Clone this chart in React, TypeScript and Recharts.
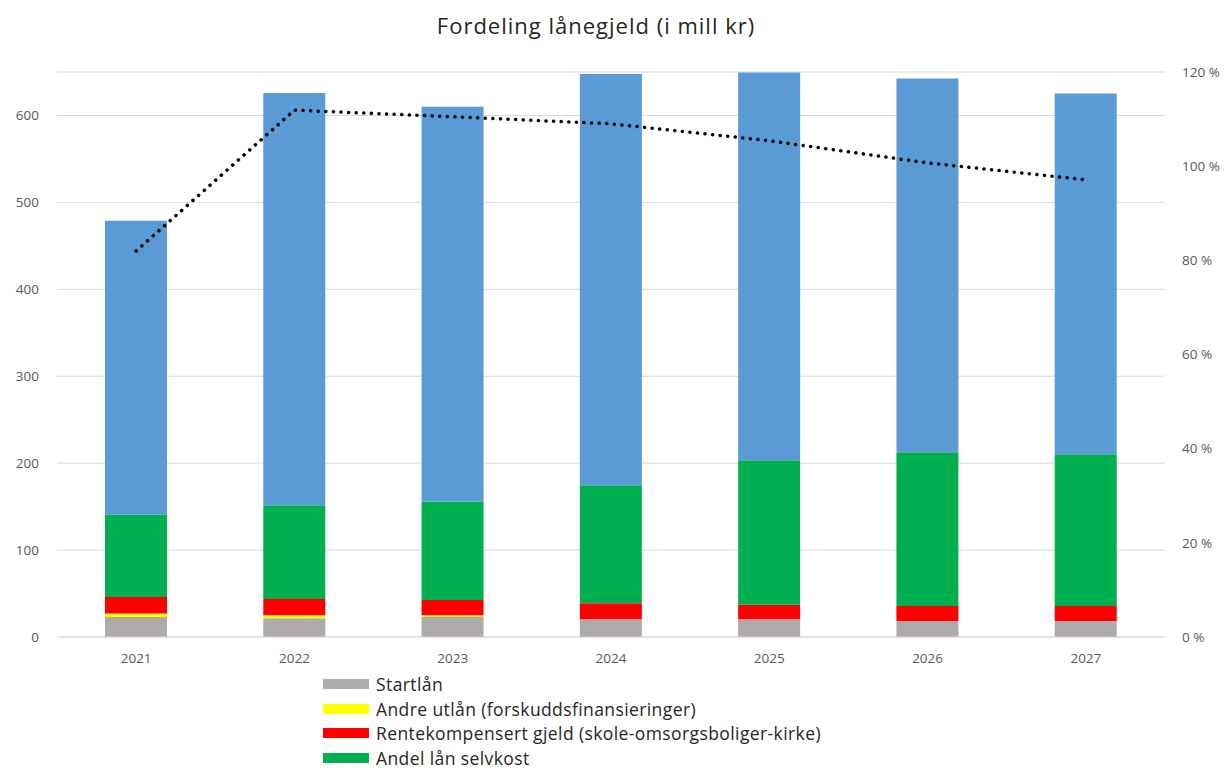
import { ComposedChart, Bar, Line, XAxis, YAxis, CartesianGrid } from "recharts";

const years = ["2021", "2022", "2023", "2024", "2025", "2026", "2027"];
const startlan = [23, 21.5, 23, 20.3, 20.3, 18.4, 18.4];
const andreUtlan = [4, 3.5, 2, 0, 0, 0, 0];
const rentekomp = [19, 18.7, 17.5, 18.4, 16.8, 17.2, 17.2];
const selvkost = [95, 108, 113.5, 136, 166.3, 177, 174.7];
const ovrig = [338, 474, 454, 473, 446, 430, 415];
const andel = [0.82, 1.119, 1.105, 1.09, 1.054, 1.007, 0.971];

const leftTicks = [0, 100, 200, 300, 400, 500, 600];
const rightTicks = [0, 0.2, 0.4, 0.6, 0.8, 1.0, 1.2];

const legendItems = [
  { name: "Startlån", color: "#AEABAA" },
  { name: "Andre utlån (forskuddsfinansieringer)", color: "#FFFF00" },
  { name: "Rentekompensert gjeld (skole-omsorgsboliger-kirke)", color: "#FF0000" },
  { name: "Andel lån selvkost", color: "#00B050" },
];

const data = years.map((year, i) => ({
  year,
  startlan: startlan[i],
  andreUtlan: andreUtlan[i],
  rentekomp: rentekomp[i],
  selvkost: selvkost[i],
  ovrig: ovrig[i],
  andel: andel[i],
}));

const font = "'Open Sans', sans-serif";
const tickStyle = { fill: "#595959", fontSize: 13.5, fontFamily: font };

export default function App() {
  return (
    <div
      style={{
        position: "absolute",
        left: 0,
        top: 0,
        width: 1224,
        height: 771,
        background: "#fff",
        overflow: "hidden",
        fontFamily: font,
      }}
    >
      <div
        style={{
          position: "absolute",
          top: 10,
          left: 0,
          width: 1192,
          textAlign: "center",
          fontSize: 22,
          letterSpacing: 1,
          color: "#262626",
        }}
      >
        Fordeling lånegjeld (i mill kr)
      </div>
      <ComposedChart
        width={1224}
        height={771}
        data={data}
        margin={{ top: 72, right: 0, bottom: 104, left: 7 }}
      >
        <CartesianGrid
          yAxisId="left"
          vertical={false}
          stroke="#d9d9d9"
          strokeWidth={1}
        />
        <XAxis
          dataKey="year"
          height={30}
          axisLine={{ stroke: "#d9d9d9" }}
          tickLine={false}
          tick={tickStyle}
          tickMargin={10}
        />
        <YAxis
          yAxisId="left"
          width={50}
          domain={[0, 650]}
          ticks={leftTicks}
          axisLine={false}
          tickLine={false}
          tick={tickStyle}
          tickMargin={12}
        />
        <YAxis
          yAxisId="right"
          orientation="right"
          width={59}
          domain={[0, 1.2]}
          ticks={rightTicks}
          axisLine={false}
          tickLine={false}
          tick={{ ...tickStyle, textAnchor: "start" }}
          tickMargin={11}
          tickFormatter={(v) => `${Math.round(v * 100)} %`}
        />
        <Bar yAxisId="left" dataKey="startlan" stackId="a" fill="#AEABAA" barSize={62} isAnimationActive={false} />
        <Bar yAxisId="left" dataKey="andreUtlan" stackId="a" fill="#FFFF00" barSize={62} isAnimationActive={false} />
        <Bar yAxisId="left" dataKey="rentekomp" stackId="a" fill="#FF0000" barSize={62} isAnimationActive={false} />
        <Bar yAxisId="left" dataKey="selvkost" stackId="a" fill="#00B050" barSize={62} isAnimationActive={false} />
        <Bar yAxisId="left" dataKey="ovrig" stackId="a" fill="#5B9BD5" barSize={62} isAnimationActive={false} />
        <Line
          yAxisId="right"
          dataKey="andel"
          type="linear"
          stroke="#000"
          strokeWidth={3.5}
          strokeDasharray="0.1 7.5"
          strokeLinecap="round"
          dot={false}
          activeDot={false}
          isAnimationActive={false}
        />
      </ComposedChart>
      <div style={{ position: "absolute", left: 323, top: 672 }}>
        {legendItems.map((item) => (
          <div
            key={item.name}
            style={{ display: "flex", alignItems: "center", height: 24.5 }}
          >
            <div style={{ width: 46, height: 10, background: item.color, marginRight: 7 }} />
            <span style={{ fontSize: 17.5, letterSpacing: 0.4, color: "#262626", lineHeight: "20px" }}>{item.name}</span>
          </div>
        ))}
      </div>
    </div>
  );
}
